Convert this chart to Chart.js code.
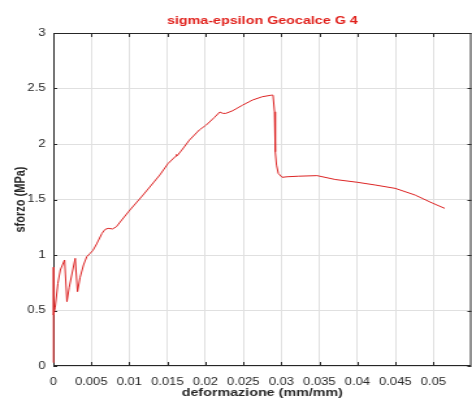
<!DOCTYPE html>
<html lang="it">
<head>
<meta charset="UTF-8">
<title>sigma-epsilon Geocalce G 4</title>
<script src="https://cdn.jsdelivr.net/npm/chart.js"></script>
<style>
    html, body { margin: 0; padding: 0; background: #fff; overflow: hidden; }
    /* l'immagine originale e' allargata in orizzontale: disegno stretto e poi stiro */
    #wrap { width: 363px; height: 410px; position: relative; transform: scaleX(1.3003); transform-origin: 0 0; }
</style>
</head>
<body>
<div id="wrap"><canvas id="sigeps"></canvas></div>
<script>
    // deformazione (mm/mm)
    const strain = [0, 0.00002, 0.00004, 0.00025, 0.0006, 0.00092, 0.00148, 0.00179, 0.00209, 0.00288,
        0.00318, 0.00353, 0.00397, 0.0044, 0.00484, 0.0052, 0.0057, 0.0064, 0.0068, 0.0072,
        0.0078, 0.0083, 0.009, 0.00995, 0.0118, 0.014, 0.0151, 0.0161, 0.0162, 0.0163,
        0.0169, 0.0179, 0.0192, 0.0201, 0.0212, 0.0219, 0.0223, 0.0227, 0.0236, 0.0249,
        0.0262, 0.0275, 0.0287, 0.0289, 0.0291, 0.0292, 0.02936, 0.0296, 0.0301, 0.0308,
        0.0323, 0.0347, 0.0371, 0.04, 0.0424, 0.045, 0.0476, 0.0498, 0.0515];
    // sforzo (MPa)
    const stress = [0.03, 0.89, 0.46, 0.53, 0.745, 0.865, 0.955, 0.58, 0.71, 0.97,
        0.67, 0.8, 0.91, 0.985, 1.015, 1.04, 1.1, 1.195, 1.23, 1.24,
        1.235, 1.255, 1.315, 1.395, 1.54, 1.72, 1.825, 1.89, 1.905, 1.895,
        1.945, 2.035, 2.126, 2.17, 2.24, 2.288, 2.276, 2.276, 2.3, 2.35,
        2.396, 2.426, 2.44, 2.44, 2.29, 1.93, 1.81, 1.735, 1.7, 1.705,
        1.71, 1.715, 1.68, 1.655, 1.63, 1.6, 1.54, 1.47, 1.42];
    const xTicks = [0, 0.005, 0.01, 0.015, 0.02, 0.025, 0.03, 0.035, 0.04, 0.045, 0.05];
    const yTicks = [0, 0.5, 1, 1.5, 2, 2.5, 3];

    const axisColor = '#262626';
    const fontFam = '"Liberation Sans", Arial, sans-serif';

    // cornice con tacche interne (stile matlab) sotto la curva, titolo sopra
    const boxPlugin = {
        id: 'box',
        beforeDatasetsDraw(chart) {
            const { ctx, chartArea: a, scales } = chart;
            ctx.save();
            ctx.strokeStyle = axisColor;
            ctx.lineWidth = 1;
            ctx.strokeRect(a.left + 0.5, a.top + 0.5, a.right - a.left - 1, a.bottom - a.top - 1);
            ctx.beginPath();
            xTicks.forEach(v => {
                const px = Math.round(scales.x.getPixelForValue(v)) + 0.5;
                ctx.moveTo(px, a.bottom); ctx.lineTo(px, a.bottom - 4);
                ctx.moveTo(px, a.top); ctx.lineTo(px, a.top + 4);
            });
            yTicks.forEach(v => {
                const py = Math.round(scales.y.getPixelForValue(v)) + 0.5;
                ctx.moveTo(a.left, py); ctx.lineTo(a.left + 3, py);
                ctx.moveTo(a.right, py); ctx.lineTo(a.right - 3, py);
            });
            ctx.stroke();
            ctx.restore();
        },
        afterDraw(chart) {
            const { ctx, chartArea: a } = chart;
            ctx.save();
            ctx.fillStyle = '#e0201b';
            ctx.font = 'bold 11px ' + fontFam;
            ctx.textAlign = 'center';
            ctx.textBaseline = 'middle';
            ctx.fillText('sigma-epsilon Geocalce G 4', (a.left + a.right) / 2, 21);
            ctx.restore();
        }
    };

    const tickFont = { family: fontFam, size: 10 };
    const titleFont = { family: fontFam, size: 11, weight: 'bold' };

    new Chart(document.getElementById('sigeps'), {
        type: 'line',
        data: {
            datasets: [{
                data: strain.map((x, i) => ({ x: x, y: stress[i] })),
                borderColor: '#dc2323',
                borderWidth: 1,
                pointRadius: 0,
                tension: 0,
                fill: false,
                clip: 3
            }]
        },
        options: {
            responsive: true,
            maintainAspectRatio: false,
            animation: false,
            layout: { padding: { top: 33, right: 0, left: 0, bottom: 0 } },
            plugins: {
                legend: { display: false },
                tooltip: { enabled: false }
            },
            scales: {
                x: {
                    type: 'linear',
                    min: 0,
                    max: 0.055,
                    afterFit(scale) { scale.height = 44; },
                    afterBuildTicks(scale) { scale.ticks = xTicks.map(v => ({ value: v })); },
                    ticks: {
                        font: tickFont,
                        color: axisColor,
                        padding: 10,
                        maxRotation: 0,
                        autoSkip: false,
                        callback: v => String(parseFloat(v.toFixed(3)))
                    },
                    grid: { color: '#e0e0e0', drawTicks: false },
                    border: { display: false },
                    title: {
                        display: true,
                        text: 'deformazione (mm/mm)',
                        font: titleFont,
                        color: axisColor,
                        padding: { top: 0, bottom: 10 }
                    }
                },
                y: {
                    min: 0,
                    max: 3,
                    afterFit(scale) { scale.width = 41; },
                    afterBuildTicks(scale) { scale.ticks = yTicks.map(v => ({ value: v })); },
                    ticks: {
                        font: tickFont,
                        color: axisColor,
                        padding: 6,
                        callback: v => String(v)
                    },
                    grid: { color: '#e0e0e0', drawTicks: false },
                    border: { display: false },
                    title: {
                        display: true,
                        text: 'sforzo (MPa)',
                        font: titleFont,
                        color: axisColor,
                        padding: { top: 9, bottom: 0 }
                    }
                }
            }
        },
        plugins: [boxPlugin]
    });
</script>
</body>
</html>
